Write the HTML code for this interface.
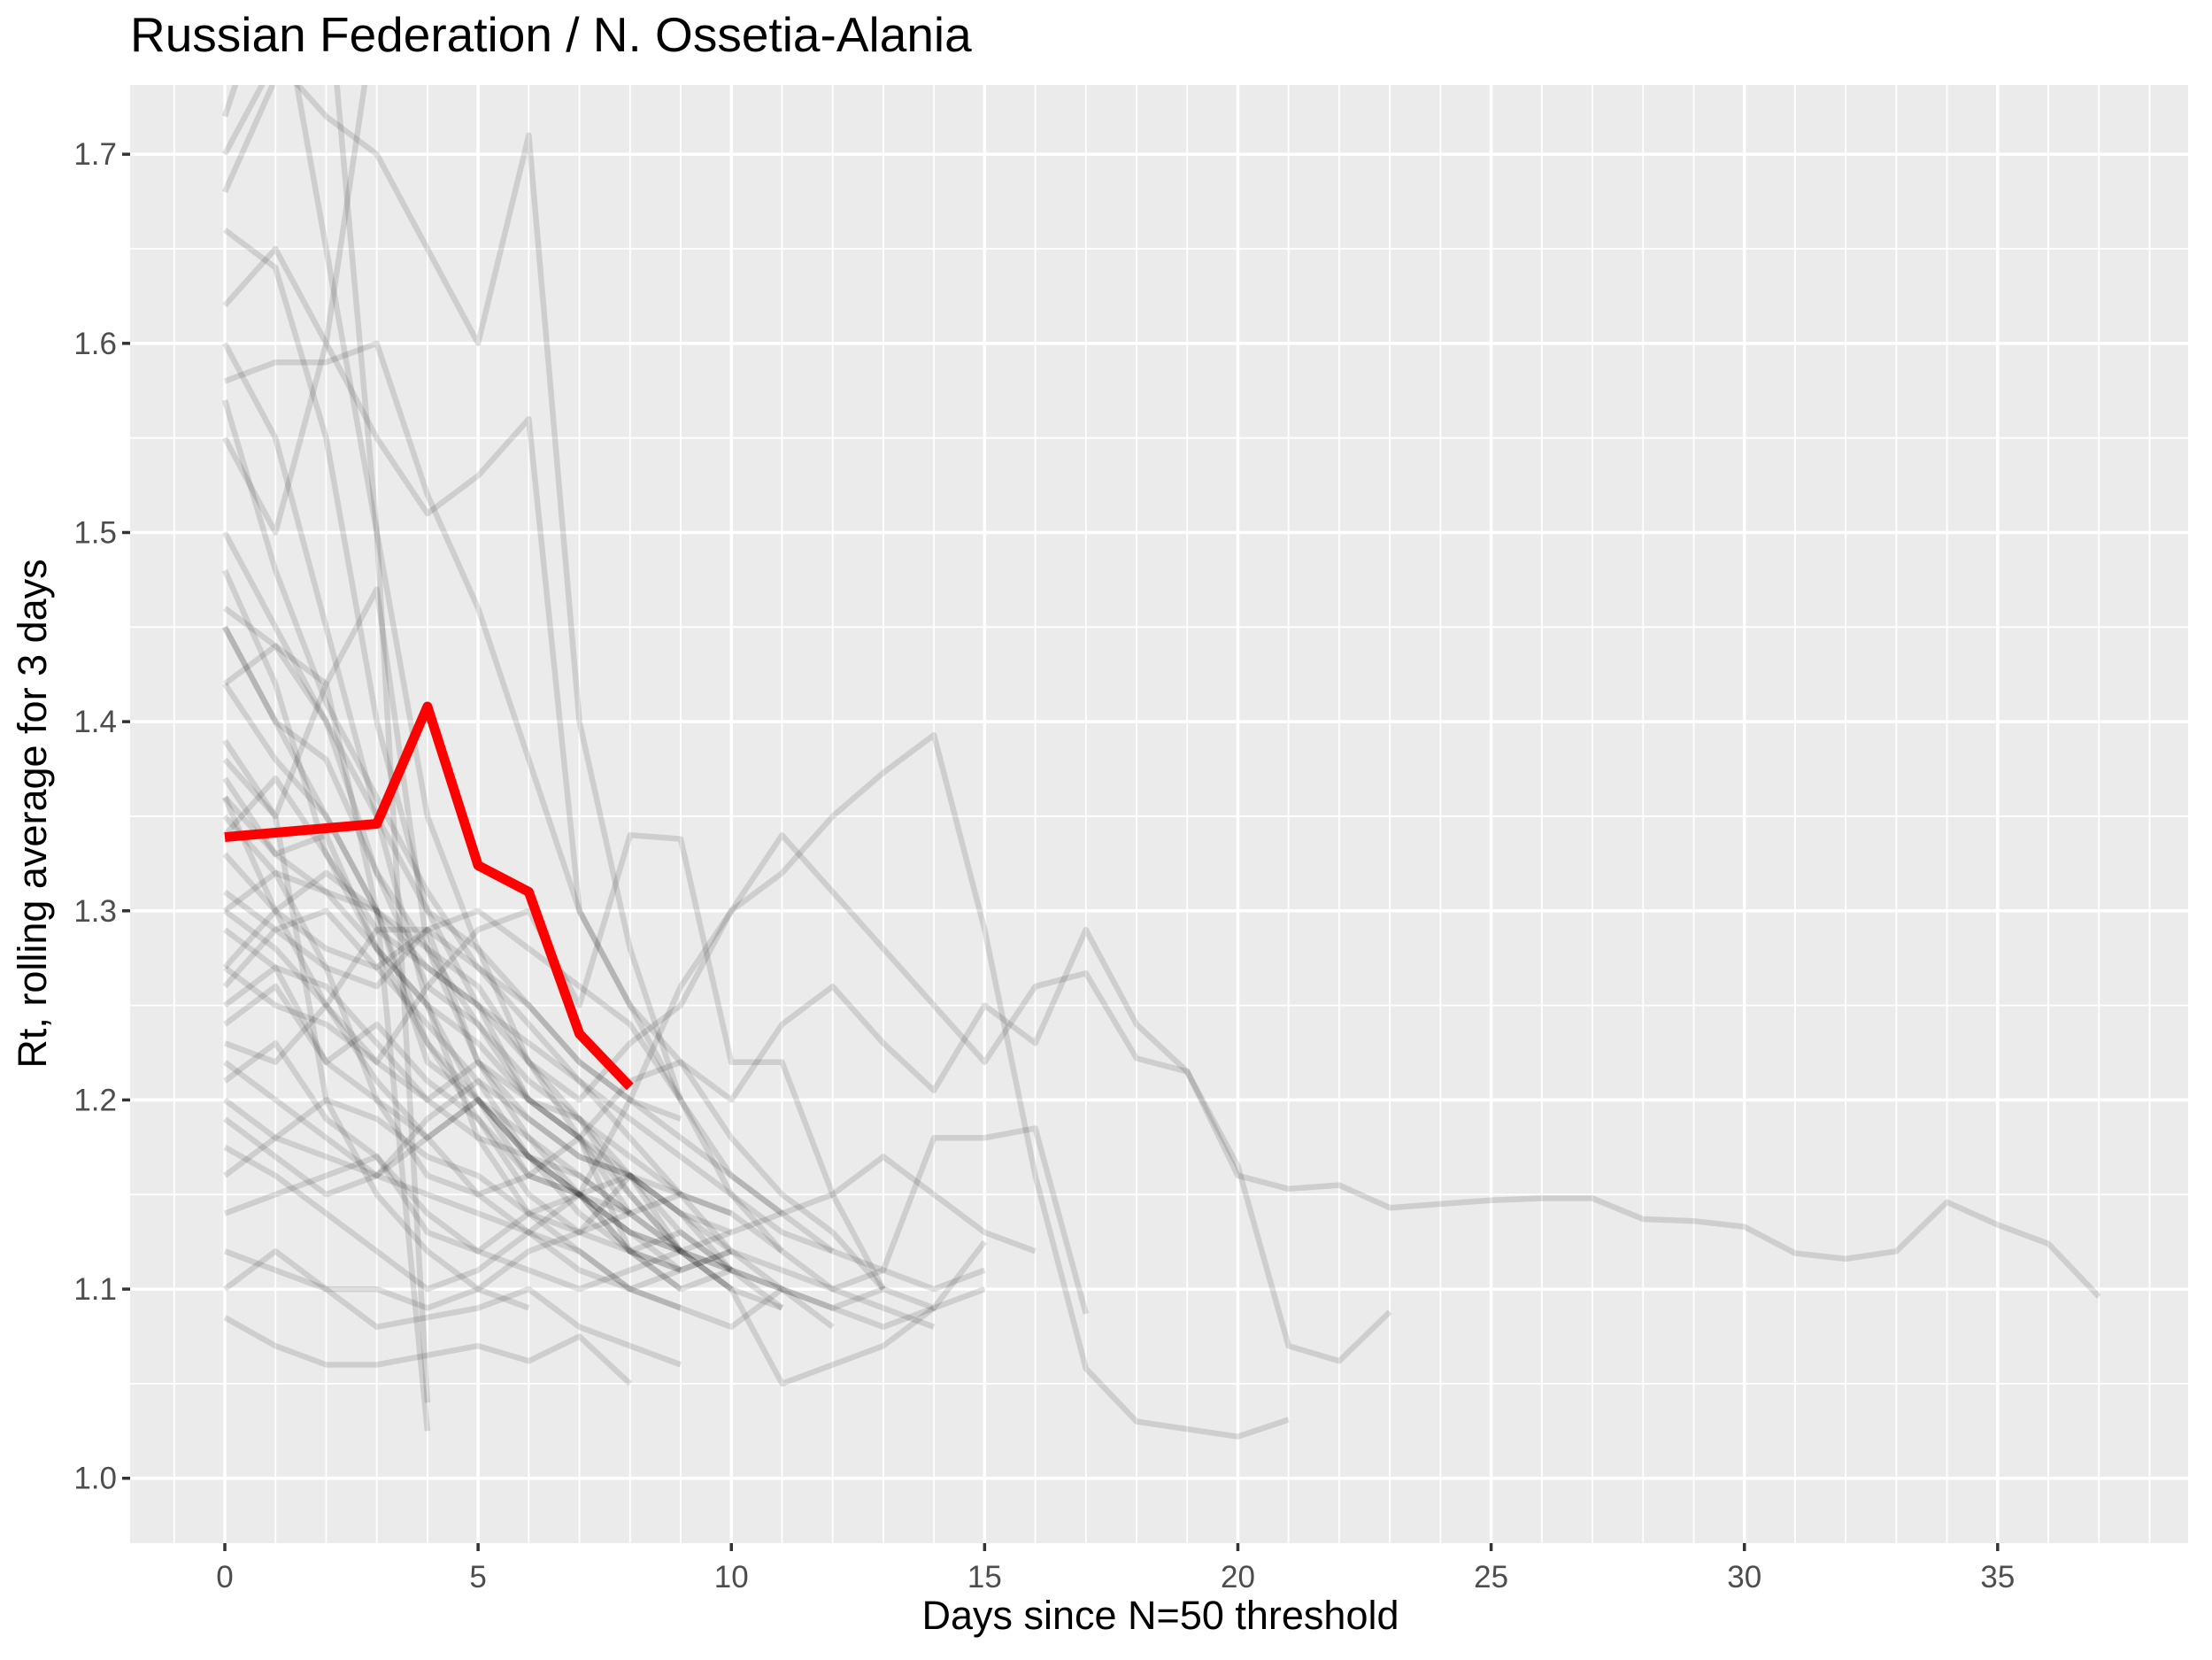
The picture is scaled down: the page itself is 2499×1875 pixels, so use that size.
<!DOCTYPE html>
<html><head><meta charset="utf-8"><style>
html,body{margin:0;padding:0;background:#fff;}
svg{display:block;font-family:"Liberation Sans",Arial,sans-serif;}
</style></head><body>
<svg id="chart" width="2499" height="1875" viewBox="0 0 2499 1875" xmlns="http://www.w3.org/2000/svg">
<rect x="0" y="0" width="2499" height="1875" fill="#fff"/>
<text x="147" y="58" font-size="55" fill="#000">Russian Federation / N. Ossetia-Alania</text>
<rect x="147" y="96" width="2325" height="1647" fill="#ebebeb"/>
<g id="grid"></g>
<g id="series"></g>
<g id="axes"></g>
<text x="1311" y="1840" font-size="45" text-anchor="middle" fill="#000">Days since N=50 threshold</text>
<text transform="translate(52,919) rotate(-90)" font-size="45" text-anchor="middle" fill="#000">Rt, rolling average for 3 days</text>
</svg>
<script>
const xTicks = [0,5,10,15,20,25,30,35];
const yTicks = [1.0,1.1,1.2,1.3,1.4,1.5,1.6,1.7];
const yTickLabels = ["1.0","1.1","1.2","1.3","1.4","1.5","1.6","1.7"];
const redSeriesX = [0,3,4,5,6,7,8];
const redSeriesY = [1.339,1.346,1.408,1.324,1.310,1.235,1.207];
const s1=[1.66,1.64,1.55,1.40,1.30,1.25,1.20,1.18,1.15,1.12,1.10];
const s2=[1.72,1.8,1.65,1.5,1.35,1.28,1.22,1.18,1.14];
const s3=[1.45,1.40,1.38,1.32,1.28,1.26,1.22,1.19,1.15,1.12,1.10,1.09];
const s4=[1.085,1.07,1.06,1.06,1.065,1.07,1.062,1.075,1.05];
const s5=[1.10,1.12,1.10,1.08,1.085,1.09,1.10,1.08,1.07,1.06];
const s6=[1.25,1.27,1.26,1.23,1.20,1.22,1.18,1.15,1.13,1.12,1.11,1.10,1.09,1.10,1.09,1.125];
const s7=[1.30,1.28,1.25,1.22,1.26,1.29,1.30,1.25,1.34,1.338,1.22,1.22,1.15,1.10];
const s8=[1.36,1.33,1.31,1.30,1.28,1.24,1.20,1.18,1.21,1.22,1.20,1.24,1.26,1.23,1.205,1.25,1.23,1.29,1.24,1.215,1.16,1.153,1.155,1.143,1.145,1.147,1.148,1.148,1.137,1.136,1.133,1.119,1.116,1.120,1.146,1.134,1.124,1.096];
const s9=[1.42,1.38,1.35,1.30,1.27,1.25,1.22,1.20,1.23,1.25,1.30,1.34,1.31,1.28,1.25,1.22,1.26,1.267,1.222,1.215,1.165,1.07,1.062,1.088];
const s10=[1.24,1.26,1.22,1.20,1.18,1.20,1.16,1.15,1.20,1.26,1.30,1.32,1.35,1.373,1.393,1.29,1.16,1.058,1.03,1.026,1.022,1.031];
const s11=[1.12,1.11,1.10,1.10,1.09,1.10,1.12,1.13,1.14,1.15,1.12,1.11,1.10,1.11,1.18,1.18,1.185,1.087];
const s12=[1.58,1.59,1.59,1.6,1.52,1.46,1.38,1.30,1.25,1.22,1.18,1.15,1.13,1.10];
const s13=[1.62,1.65,1.60,1.55,1.51,1.53,1.56,1.30,1.25,1.20,1.16,1.14];
const s14=[1.70,1.75,1.72,1.70,1.65,1.60,1.71,1.40,1.28,1.20];
const s15=[1.33,1.30,1.28,1.27,1.29,1.30,1.28,1.26,1.24,1.20,1.15,1.12,1.10,1.09,1.08];
const s16=[1.20,1.18,1.17,1.16,1.15,1.14,1.13,1.12,1.10,1.09,1.08,1.10];
const s17=[1.14,1.15,1.16,1.17,1.14,1.12,1.11,1.10,1.11,1.12,1.13,1.14,1.15,1.17,1.15,1.13,1.12];
const s18=[1.50,1.45,1.40,1.35,1.30,1.28,1.25,1.22,1.20,1.18,1.16,1.14,1.12];
const s19=[1.38,1.35,1.42,1.47,1.28,1.22,1.19,1.17,1.16,1.15,1.14];
const s20=[1.27,1.25,1.24,1.22,1.20,1.18,1.17,1.16,1.14,1.12,1.11,1.10,1.09,1.08,1.09,1.10];
const s21=[1.22,1.20,1.18,1.16,1.19,1.21,1.19,1.17,1.16,1.14,1.13];
const s22=[1.175,1.16,1.14,1.12,1.10,1.11,1.13,1.15,1.16,1.14,1.11];
const s23=[1.60,1.55,1.45,1.35,1.25,1.18,1.14,1.12,1.10,1.09];
const s24=[1.46,1.44,1.42,1.30,1.22,1.20,1.17,1.15,1.13,1.11];
const s25=[1.34,1.37,1.33,1.29,1.27,1.25,1.23,1.21,1.19,1.17,1.15,1.13,1.12,1.11,1.10,1.11];
const s26=[1.26,1.29,1.27,1.20,1.16,1.15,1.16,1.18,1.12,1.10];
const s27=[1.39,1.35,1.20,1.15,1.12,1.10,1.09];
const s28=[1.30,1.32,1.31,1.28,1.25,1.23,1.20,1.18,1.16,1.12,1.10,1.05,1.06,1.07,1.09];
const s29=[1.68,1.74,1.80,1.50,1.04];
const s30=[1.45,1.40,1.35,1.30,1.025];
const s31=[1.55,1.50,1.60,1.78,1.80];
const s32=[1.36,1.30,1.25,1.29,1.29,1.27,1.25,1.22,1.20,1.19];
const s33=[1.42,1.44,1.40,1.32,1.26,1.24,1.21,1.19,1.16,1.13,1.11];
const s34=[1.31,1.29,1.30,1.27,1.24,1.21,1.17,1.15,1.14,1.12];
const s35=[1.23,1.22,1.25,1.21,1.18,1.15,1.13,1.11,1.10,1.11,1.12];
const s36=[1.37,1.33,1.34,1.28,1.23,1.19,1.15,1.13,1.12,1.11,1.12];
const s37=[1.21,1.23,1.19,1.17,1.13,1.12,1.14,1.13,1.16,1.14,1.12,1.10,1.08];
const s38=[1.48,1.42,1.33,1.28,1.25,1.20,1.18,1.16,1.14];
const s39=[1.29,1.27,1.22,1.24,1.21,1.19,1.16,1.15,1.12,1.10,1.11];
const s40=[1.16,1.18,1.20,1.19,1.17,1.16,1.14,1.15,1.13,1.12];
const s41=[1.35,1.32,1.27,1.26,1.29,1.22,1.20,1.19,1.17,1.15,1.14,1.12];
const s42=[1.57,1.48,1.41,1.36,1.31,1.27,1.24,1.21,1.18,1.15];
const s43=[1.27,1.30,1.32,1.30,1.23,1.20,1.17,1.15,1.12,1.11];
const s44=[1.19,1.17,1.15,1.16,1.18,1.20,1.17,1.14,1.12,1.13,1.11,1.09];
const greySeries=[s1,s2,s3,s4,s5,s6,s7,s8,s9,s10,s11,s12,s13,s14,s15,s16,s17,s18,s19,s20,s21,s22,s23,s24,s25,s26,s27,s28,s29,s30,s31,s32,s33,s34,s35,s36,s37,s38,s39,s40,s41,s42,s43,s44];

const NS="http://www.w3.org/2000/svg";
const PL=147,PR=2472,PT=96,PB=1743;
const XMIN=-1.87,XMAX=38.76,YMIN=0.9657,YMAX=1.7366;
function sx(v){return PL+(v-XMIN)/(XMAX-XMIN)*(PR-PL);}
function sy(v){return PB-(v-YMIN)/(YMAX-YMIN)*(PB-PT);}
function mk(tag,attrs,parent){const e=document.createElementNS(NS,tag);for(const k in attrs)e.setAttribute(k,attrs[k]);parent.appendChild(e);return e;}
const grid=document.getElementById('grid'),ser=document.getElementById('series'),axes=document.getElementById('axes');
for(let d=-1;d<=38;d++){if(d%5===0)continue;
 const l=mk('line',{x1:sx(d),x2:sx(d),y1:PT,y2:PB,stroke:'#fff','stroke-width':1.8},grid);
 
 }
for(let i=0;i<yTicks.length;i++){const v=yTicks[i]+0.05;if(v>YMAX)continue;
 const l=mk('line',{x1:PL,x2:PR,y1:sy(v),y2:sy(v),stroke:'#fff','stroke-width':1.8},grid);
 
 }
for(const t of xTicks){
 const l=mk('line',{x1:sx(t),x2:sx(t),y1:PT,y2:PB,stroke:'#fff','stroke-width':3.5},grid);
 
 
 const tk=mk('line',{x1:sx(t),x2:sx(t),y1:PB,y2:PB+9,stroke:'#333','stroke-width':3.5},axes);
 
 
 const tx=mk('text',{x:sx(t),y:PB+50,'font-size':35,'text-anchor':'middle',fill:'#4d4d4d'},axes);
 tx.textContent=String(t);
 
 }
for(let i=0;i<yTicks.length;i++){const t=yTicks[i];
 const l=mk('line',{x1:PL,x2:PR,y1:sy(t),y2:sy(t),stroke:'#fff','stroke-width':3.5},grid);
 
 
 const tk=mk('line',{x1:PL-9,x2:PL,y1:sy(t),y2:sy(t),stroke:'#333','stroke-width':3.5},axes);
 
 
 const tx=mk('text',{x:PL-15,y:sy(t)+12,'font-size':35,'text-anchor':'end',fill:'#4d4d4d'},axes);
 tx.textContent=yTickLabels[i];
 
 }
const defs=mk('defs',{},ser);const cp=mk('clipPath',{id:'clip'},defs);mk('rect',{x:PL,y:PT,width:PR-PL,height:PB-PT},cp);
ser.setAttribute('clip-path','url(#clip)');
greySeries.forEach((s,i)=>{
 const pts=s.map((v,j)=>sx(j).toFixed(1)+','+sy(v).toFixed(1)).join(' ');
 const p=mk('polyline',{points:pts,fill:'none',stroke:'#000','stroke-opacity':0.12,'stroke-width':6.5,'stroke-linejoin':'round'},ser);
 
 });
const rp=redSeriesX.map((x,j)=>sx(x).toFixed(1)+','+sy(redSeriesY[j]).toFixed(1)).join(' ');
const red=mk('polyline',{points:rp,fill:'none',stroke:'#ff0000','stroke-width':11,'stroke-linejoin':'round'},ser);


</script>
</body></html>
